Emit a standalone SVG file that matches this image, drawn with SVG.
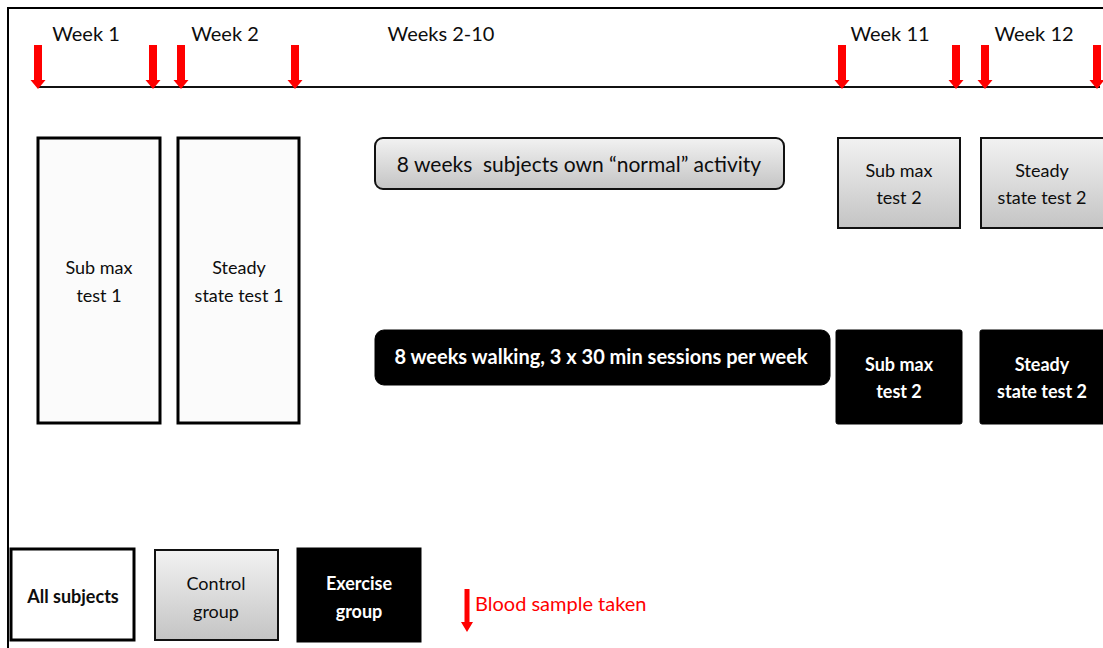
<svg xmlns="http://www.w3.org/2000/svg" width="1103" height="648" viewBox="0 0 1103 648">
<defs>
<linearGradient id="gray" x1="0" y1="0" x2="0" y2="1">
<stop offset="0" stop-color="#f2f2f2"/>
<stop offset="1" stop-color="#c4c4c4"/>
</linearGradient>
<polygon id="arrow" points="-4,-44 4,-44 4,-9 7.5,-9 0,0 -7.5,-9 -4,-9" fill="#ff0000"/>
</defs>
<style>
text{font-family:Lato,"Open Sans","Liberation Sans",sans-serif;text-anchor:middle;fill:#0d0d0d}
.wk{font-size:20px}
.lbl{font-size:18px}
.big{font-size:21px}
.w{fill:#ffffff;font-weight:bold}
.b{font-weight:bold}
.white{fill:#fbfbfb;stroke:#000;stroke-width:3}
.grey{fill:url(#gray);stroke:#111;stroke-width:2}
.black{fill:#000;stroke:#000}
</style>
<rect width="1103" height="648" fill="#ffffff"/>
<g id="frame" fill="none" stroke="#000" stroke-width="2">
<path d="M1103,8 H8 V648"/>
</g>
<g id="timeline">
<path d="M38,87 H1100" stroke="#111" stroke-width="2" fill="none"/>
<text class="wk" x="86" y="41">Week 1</text>
<text class="wk" x="225" y="41">Week 2</text>
<text class="wk" x="441" y="41">Weeks 2-10</text>
<text class="wk" x="890" y="41">Week 11</text>
<text class="wk" x="1034" y="41">Week 12</text>
</g>
<g id="blood-samples">
<use href="#arrow" x="38" y="89"/>
<use href="#arrow" x="153" y="89"/>
<use href="#arrow" x="181" y="89"/>
<use href="#arrow" x="295" y="89"/>
<use href="#arrow" x="842" y="89"/>
<use href="#arrow" x="956" y="89"/>
<use href="#arrow" x="985" y="89"/>
<use href="#arrow" x="1097" y="89"/>
</g>
<g id="submax1">
<rect class="white" x="38" y="138" width="122" height="285"/>
<text class="lbl" x="99" y="274">Sub max</text>
<text class="lbl" x="99" y="302">test 1</text>
</g>
<g id="steady1">
<rect class="white" x="178" y="138" width="121" height="285"/>
<text class="lbl" x="239" y="274">Steady</text>
<text class="lbl" x="239" y="302">state test 1</text>
</g>
<g id="control-activity">
<rect class="grey" x="375" y="138" width="409" height="51" rx="8" stroke-width="1.5"/>
<text class="big" x="579" y="172" xml:space="preserve">8 weeks  subjects own “normal” activity</text>
</g>
<g id="control-submax2">
<rect class="grey" x="838" y="138" width="122" height="90"/>
<text class="lbl" x="899" y="177">Sub max</text>
<text class="lbl" x="899" y="204">test 2</text>
</g>
<g id="control-steady2">
<rect class="grey" x="981" y="138" width="124" height="90"/>
<text class="lbl" x="1042" y="177">Steady</text>
<text class="lbl" x="1042" y="204">state test 2</text>
</g>
<g id="exercise-walking">
<rect class="black" x="375" y="330" width="455" height="55" rx="9"/>
<text class="big w" x="601" y="364" style="font-size:20px">8 weeks walking, 3 x 30 min sessions per week</text>
</g>
<g id="exercise-submax2">
<rect class="black" x="836" y="330" width="126" height="94" rx="2"/>
<text class="lbl w" x="899" y="371">Sub max</text>
<text class="lbl w" x="899" y="398">test 2</text>
</g>
<g id="exercise-steady2">
<rect class="black" x="980" y="330" width="125" height="94" rx="2"/>
<text class="lbl w" x="1042" y="371">Steady</text>
<text class="lbl w" x="1042" y="398">state test 2</text>
</g>
<g id="legend-all">
<rect class="white" x="11" y="549" width="123" height="91" style="fill:#fff"/>
<text class="lbl b" x="73" y="603">All subjects</text>
</g>
<g id="legend-control">
<rect class="grey" x="155" y="550" width="123" height="90" stroke-width="1.5"/>
<text class="lbl" x="216" y="590">Control</text>
<text class="lbl" x="216" y="618">group</text>
</g>
<g id="legend-exercise">
<rect class="black" x="297" y="548" width="124" height="94"/>
<text class="lbl w" x="359" y="590">Exercise</text>
<text class="lbl w" x="359" y="618">group</text>
</g>
<g id="legend-blood">
<polygon points="464.5,589 469.5,589 469.5,622 473,622 467,632 461,622 464.5,622" fill="#ff0000"/>
<text x="475" y="611" style="font-size:20px;text-anchor:start;fill:#ff0000">Blood sample taken</text>
</g>
</svg>
